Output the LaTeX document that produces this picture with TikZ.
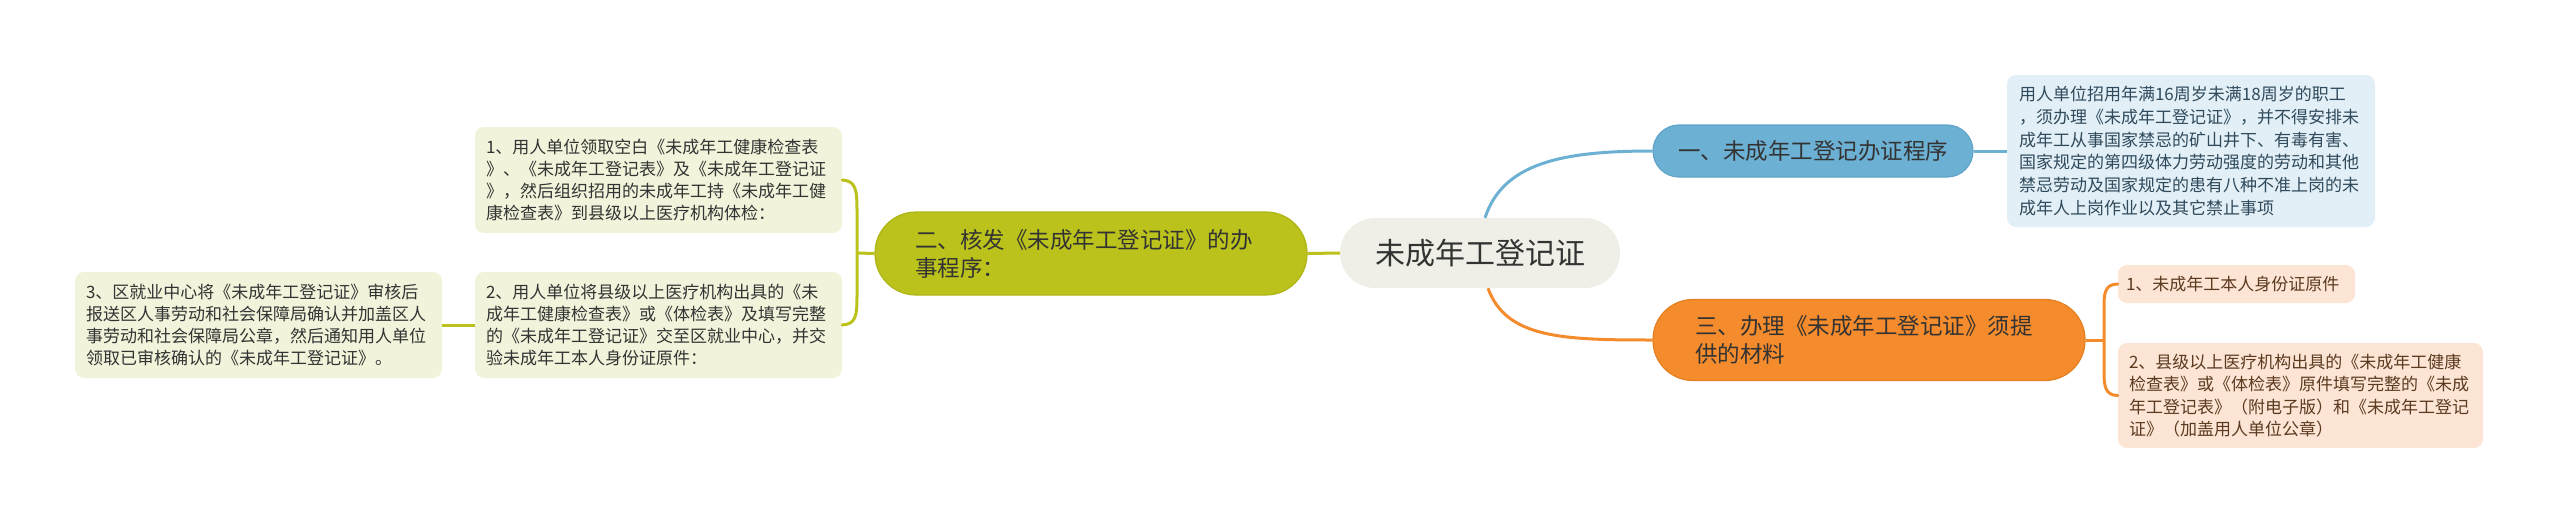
\documentclass[tikz,border=0pt]{standalone}
\usepackage{fontspec}
\newfontfamily\cjk{Noto Sans CJK SC}
\definecolor{rootbg}{HTML}{EFEFE7}
\definecolor{grn}{HTML}{BAC21B}
\definecolor{grnd}{HTML}{AEB517}
\definecolor{grnleaf}{HTML}{F1F3DA}
\definecolor{blu}{HTML}{6CB0D3}
\definecolor{blud}{HTML}{5FA3C7}
\definecolor{bluleaf}{HTML}{E2EFF6}
\definecolor{org}{HTML}{F48B2C}
\definecolor{orgd}{HTML}{E4801F}
\definecolor{orgleaf}{HTML}{FCE5D5}
\definecolor{txt}{HTML}{333333}
\definecolor{blutxt}{HTML}{2F4A5C}
\definecolor{orgtxt}{HTML}{5B3A1F}
\begin{document}
\begin{tikzpicture}[x=1pt,y=-1pt,
  rootnode/.style={fill=rootbg, rounded corners=35pt, minimum width=280pt, minimum height=70pt, inner sep=0pt, text=txt, font=\cjk\fontsize{30}{36}\selectfont},
  branchnode/.style={inner ysep=0pt, text=txt, font=\cjk\fontsize{22.5}{28}\selectfont, line width=1.2pt},
  leafnode/.style={rounded corners=9pt, inner ysep=0pt, align=left, font=\cjk\fontsize{17}{22.3}\selectfont},
  gline/.style={draw=grn, line width=3pt},
  bline/.style={draw=blu, line width=3pt},
  oline/.style={draw=org, line width=3pt}
]
\useasboundingbox (0,0) rectangle (2560,525);
% root
\node[rootnode] (root) at (1480,253) {未成年工登记证};
% branches
\node[branchnode, fill=grn, draw=grnd, rounded corners=41pt, minimum width=432pt, minimum height=83pt, inner xsep=40pt, text width=352pt, align=left] (b2) at (1091,253.5) {二、核发《未成年工登记证》的办\\事程序：};
\node[branchnode, fill=blu, draw=blud, rounded corners=26pt, minimum width=320pt, minimum height=52pt, inner xsep=0pt] (b1) at (1813,151) {一、未成年工登记办证程序};
\node[branchnode, fill=org, draw=orgd, rounded corners=40pt, minimum width=432pt, minimum height=81pt, inner xsep=42pt, text width=348pt, align=left] (b3) at (1869,340) {三、办理《未成年工登记证》须提\\供的材料};
% green leaves
\node[leafnode, fill=grnleaf, text=txt, text width=345pt, inner xsep=11pt, minimum height=106pt] (L1) at (658.5,180) {1、用人单位领取空白《未成年工健康检查表\\》、《未成年工登记表》及《未成年工登记证\\》，然后组织招用的未成年工持《未成年工健\\康检查表》到县级以上医疗机构体检：};
\node[leafnode, fill=grnleaf, text=txt, text width=345pt, inner xsep=11pt, minimum height=106pt] (L2) at (658.5,325) {2、用人单位将县级以上医疗机构出具的《未\\成年工健康检查表》或《体检表》及填写完整\\的《未成年工登记证》交至区就业中心，并交\\验未成年工本人身份证原件：};
\node[leafnode, fill=grnleaf, text=txt, text width=345pt, inner xsep=11pt, minimum height=106pt] (L3) at (258.5,325) {3、区就业中心将《未成年工登记证》审核后\\报送区人事劳动和社会保障局确认并加盖区人\\事劳动和社会保障局公章，然后通知用人单位\\领取已审核确认的《未成年工登记证》。};
% blue leaf
\node[leafnode, fill=bluleaf, text=blutxt, text width=344pt, inner xsep=12pt, minimum height=152pt, font=\cjk\fontsize{17}{22.7}\selectfont] (BL) at (2191,151) {用人单位招用年满16周岁未满18周岁的职工\\，须办理《未成年工登记证》，并不得安排未\\成年工从事国家禁忌的矿山井下、有毒有害、\\国家规定的第四级体力劳动强度的劳动和其他\\禁忌劳动及国家规定的患有八种不准上岗的未\\成年人上岗作业以及其它禁止事项};
% orange leaves
\node[leafnode, fill=orgleaf, text=orgtxt, text width=221pt, inner xsep=8pt, minimum height=38pt] (O1) at (2236.5,284) {1、未成年工本人身份证原件};
\node[leafnode, fill=orgleaf, text=orgtxt, text width=343pt, inner xsep=11pt, minimum height=105pt] (O2) at (2300.5,395.5) {2、县级以上医疗机构出具的《未成年工健康\\检查表》或《体检表》原件填写完整的《未成\\年工登记表》（附电子版）和《未成年工登记\\证》（加盖用人单位公章）};
% coordinates
\coordinate (j2) at (857,253);
\coordinate (j2a) at (857,212);
\coordinate (j2b) at (857,294);
\coordinate (j3) at (2104,340);
\coordinate (j3a) at (2104,306);
\coordinate (j3b) at (2104,372);
% connectors (drawn behind nodes visually fine since they end at borders)
\draw[gline] (root.west) -- (b2.east);
\draw[bline] ([xshift=5pt]root.north) .. controls +(18,-55) and +(-90,0) .. (b1.west);
\draw[oline] ([xshift=8pt]root.south) .. controls +(18,50) and +(-90,0) .. (b3.west);
\draw[gline] (b2.west) -- (j2);
\draw[gline, line cap=round] (L1.east) .. controls +(14,1) and +(0,-22) .. (j2a) -- (j2b) .. controls +(0,22) and +(14,-1) .. (L2.east);
\draw[gline] (L2.west) -- (L3.east);
\draw[bline] (b1.east) -- (BL.west);
\draw[oline] (b3.east) -- (j3);
\draw[oline, line cap=round] (O1.west) .. controls +(-13,0) and +(0,-12) .. (j3a) -- (j3b) .. controls +(0,13) and +(-13,0) .. (O2.west);
\end{tikzpicture}
\end{document}
